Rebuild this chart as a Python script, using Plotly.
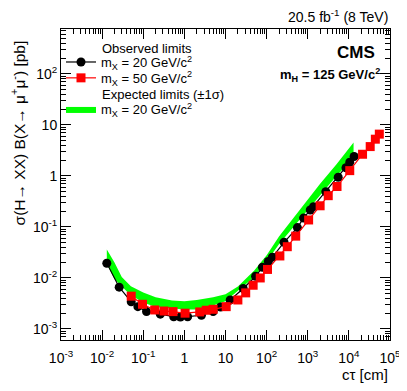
"""Upper limits on sigma(H->XX) B(X->mu mu) versus c*tau, CMS style."""

import plotly.graph_objects as go

# observed limits, m_X = 20 GeV/c^2
ct_20 = [0.013, 0.026, 0.051, 0.074, 0.12, 0.26, 0.55, 0.8, 1.2, 2.6, 5.0, 7.6, 13,
         27, 54, 79, 110, 138, 265, 560, 790, 1150, 1380, 2750, 5500, 8500, 10500, 13400]
obs_20 = [0.0194, 0.0066, 0.0034, 0.00274, 0.00219, 0.00195, 0.00174, 0.00172, 0.00174,
          0.00186, 0.0022, 0.0027, 0.0037, 0.0062, 0.0108, 0.0162, 0.021, 0.0256, 0.050,
          0.097, 0.149, 0.215, 0.25, 0.49, 0.94, 1.45, 1.85, 2.4]

# observed limits, m_X = 50 GeV/c^2
ct_50 = [0.051, 0.096, 0.19, 0.32, 0.53, 1.04, 2.36, 3.4, 5.0, 10.4, 20, 31, 47, 70,
         105, 210, 318, 510, 1050, 2000, 3150, 5150, 10500, 21500, 33000, 44000, 55000]
obs_50 = [0.0044, 0.00305, 0.00236, 0.00225, 0.00219, 0.00204, 0.00216, 0.00233, 0.00243,
          0.00274, 0.0037, 0.0051, 0.0072, 0.0100, 0.0147, 0.027, 0.041, 0.066, 0.137,
          0.26, 0.41, 0.62, 1.27, 2.66, 3.76, 5.25, 6.6]

# expected limits +-1 sigma band, m_X = 20 GeV/c^2
ct_exp = [0.013, 0.02, 0.03, 0.05, 0.1, 0.2, 0.5, 1, 2, 5, 10, 20, 50, 100, 200,
          500, 1000, 2000, 5000, 13000]
exp_hi = [0.036, 0.020, 0.0105, 0.0069, 0.0052, 0.0042, 0.0036, 0.0035, 0.0037, 0.0042,
          0.0048, 0.0068, 0.0140, 0.028, 0.065, 0.17, 0.35, 0.7, 1.7, 4.5]
exp_lo = [0.019, 0.0095, 0.0068, 0.0046, 0.0033, 0.0027, 0.0025, 0.0024, 0.0024, 0.0029,
          0.0035, 0.0055, 0.0105, 0.021, 0.046, 0.11, 0.21, 0.42, 1.0, 2.3]

x_tickvals = [1e-3, 1e-2, 1e-1, 1, 10, 1e2, 1e3, 1e4, 1e5]
x_ticktext = ["10<sup>-3</sup>", "10<sup>-2</sup>", "10<sup>-1</sup>", "1", "10",
              "10<sup>2</sup>", "10<sup>3</sup>", "10<sup>4</sup>", "10<sup>5</sup>"]
y_tickvals = [1e-3, 1e-2, 1e-1, 1, 10, 1e2]
y_ticktext = ["10<sup>-3</sup>", "10<sup>-2</sup>", "10<sup>-1</sup>", "1", "10", "10<sup>2</sup>"]

FONT = "Liberation Sans, Arial, sans-serif"

fig = go.Figure()

# band first so it sits beneath the observed curves
fig.add_trace(go.Scatter(
    x=ct_exp + ct_exp[::-1],
    y=exp_hi + exp_lo[::-1],
    fill="toself",
    fillcolor="#00ff00",
    line=dict(width=0, color="#00ff00"),
    mode="lines",
    name="m<sub>X</sub> = 20 GeV/c<sup>2</sup>",
    legend="legend3",
    hoverinfo="skip",
))
fig.add_trace(go.Scatter(
    x=ct_20, y=obs_20,
    mode="lines+markers",
    line=dict(color="black", width=1.2),
    marker=dict(symbol="circle", size=9, color="black"),
    name="m<sub>X</sub> = 20 GeV/c<sup>2</sup>",
    legend="legend",
))
fig.add_trace(go.Scatter(
    x=ct_50, y=obs_50,
    mode="lines+markers",
    line=dict(color="#ff0000", width=1.2),
    marker=dict(symbol="square", size=9, color="#ff0000"),
    name="m<sub>X</sub> = 50 GeV/c<sup>2</sup>",
    legend="legend2",
))

axis_common = dict(
    type="log",
    automargin=False,
    showgrid=False,
    zeroline=False,
    showline=True,
    linecolor="black",
    linewidth=1,
    mirror="allticks",
    ticks="inside",
    ticklen=10,
    tickcolor="black",
    tickfont=dict(family=FONT, size=14, color="black"),
    minor=dict(ticks="inside", ticklen=5, tickcolor="black", dtick="D1", showgrid=False),
)

fig.update_xaxes(axis_common, range=[-3, 5], tickmode="array",
                 tickvals=x_tickvals, ticktext=x_ticktext, ticklabelstandoff=5)
fig.update_yaxes(axis_common, range=[-3.216, 2.88], tickmode="array",
                 tickvals=y_tickvals, ticktext=y_ticktext)

legend_common = dict(
    x=0.0, xanchor="left", yanchor="top",
    bgcolor="rgba(0,0,0,0)",
    font=dict(family=FONT, size=13),
    itemwidth=30,
)

# the page body adds an 8 px margin, so the figure is 8 px smaller and shifted
fig.update_layout(
    width=399,
    height=383,
    margin=dict(l=53, r=17, t=21, b=51),
    plot_bgcolor="white",
    paper_bgcolor="white",
    font=dict(family=FONT, color="black"),
    showlegend=True,
    legend=dict(legend_common, y=0.942),
    legend2=dict(legend_common, y=0.891),
    legend3=dict(legend_common, y=0.791),
    annotations=[
        dict(text="20.5 fb<sup>-1</sup> (8 TeV)", xref="paper", yref="paper",
             x=1.0, y=1.0, xanchor="right", yanchor="bottom", yshift=2,
             showarrow=False, font=dict(size=14)),
        dict(text="<b>CMS</b>", xref="paper", yref="paper",
             x=0.96, y=0.9625, xanchor="right", yanchor="top",
             showarrow=False, font=dict(size=17)),
        dict(text="<b>m<sub>H</sub> = 125 GeV/c<sup>2</sup></b>", xref="paper", yref="paper",
             x=0.975, y=0.8875, xanchor="right", yanchor="top",
             showarrow=False, font=dict(size=13)),
        dict(text="Observed limits", xref="paper", yref="paper",
             x=0.118, y=0.968, xanchor="left", yanchor="top",
             showarrow=False, font=dict(size=13)),
        dict(text="Expected limits (\u00b11\u03c3)", xref="paper", yref="paper",
             x=0.118, y=0.82, xanchor="left", yanchor="top",
             showarrow=False, font=dict(size=13)),
        dict(text="\u03c3(H\u2192 XX) B(X\u2192 \u03bc<sup>+</sup>\u03bc<sup>-</sup>) [pb]",
             xref="paper", yref="paper", x=-0.13, y=0.665,
             xanchor="center", yanchor="middle", textangle=-90,
             showarrow=False, font=dict(size=15.5)),
        dict(text="c\u03c4 [cm]", xref="paper", yref="paper",
             x=1.0, y=-0.078, xanchor="right", yanchor="top",
             showarrow=False, font=dict(size=15)),
    ],
)

fig.write_html("out.html")
